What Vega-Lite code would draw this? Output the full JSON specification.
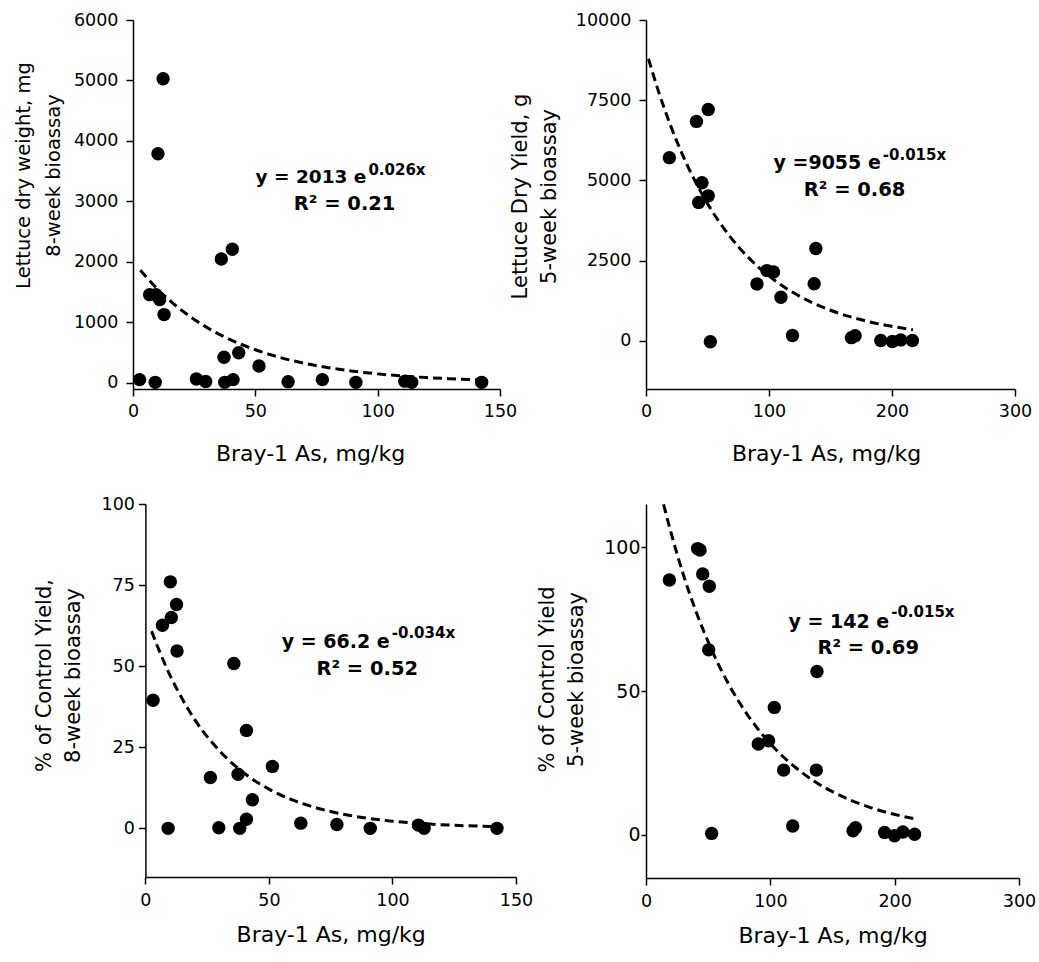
{
  "$schema": "https://vega.github.io/schema/vega-lite/v6.json",
  "padding": {"left": 13, "top": 11, "right": 5, "bottom": 5},
  "background": "white",
  "config": {
    "view": {"stroke": null},
    "font": "DejaVu Sans",
    "axis": {
      "grid": false, "domainColor": "black", "domainWidth": 1.5, "tickColor": "black", "tickWidth": 1.5, "tickSize": 7,
      "labelColor": "black", "labelFont": "DejaVu Sans", "labelFontSize": 17.5, "labelFlush": false, "labelOverlap": false,
      "titleColor": "black", "titleFont": "DejaVu Sans", "titleFontWeight": "normal"
    },
    "axisX": {"titleFontSize": 22, "labelPadding": 6, "titlePadding": 24},
    "axisY": {"titleFontSize": 21, "titleLineHeight": 29}
  },
  "datasets": {
    "p1": [
      {"x": 2.7, "y": 55}, {"x": 6.8, "y": 1460}, {"x": 9.1, "y": 10}, {"x": 9.4, "y": 1460}, {"x": 10.2, "y": 3790},
      {"x": 10.9, "y": 1380}, {"x": 12.3, "y": 5030}, {"x": 12.7, "y": 1130}, {"x": 25.9, "y": 65}, {"x": 29.7, "y": 25},
      {"x": 36.1, "y": 2050}, {"x": 37.2, "y": 425}, {"x": 37.5, "y": 10}, {"x": 40.6, "y": 2210}, {"x": 40.9, "y": 55},
      {"x": 43.2, "y": 500}, {"x": 51.5, "y": 280}, {"x": 63.4, "y": 20}, {"x": 77.4, "y": 55}, {"x": 91.1, "y": 10},
      {"x": 111.1, "y": 30}, {"x": 113.9, "y": 10}, {"x": 142.5, "y": 10}
    ],
    "c1": [
      {"x": 3, "y": 1862}, {"x": 10, "y": 1552}, {"x": 20, "y": 1197}, {"x": 30, "y": 923}, {"x": 40, "y": 711},
      {"x": 50, "y": 549}, {"x": 60, "y": 423}, {"x": 70, "y": 326}, {"x": 80, "y": 251}, {"x": 90, "y": 194},
      {"x": 100, "y": 150}, {"x": 110, "y": 115}, {"x": 120, "y": 89}, {"x": 130, "y": 69}, {"x": 142, "y": 50}
    ],
    "p2": [
      {"x": 19, "y": 5710}, {"x": 41, "y": 6840}, {"x": 50.6, "y": 7210}, {"x": 45.5, "y": 4930}, {"x": 42.8, "y": 4310},
      {"x": 50.6, "y": 4520}, {"x": 52.3, "y": -30}, {"x": 90.2, "y": 1770}, {"x": 98.3, "y": 2190}, {"x": 103.7, "y": 2150},
      {"x": 109.7, "y": 1360}, {"x": 136.7, "y": 1780}, {"x": 138.1, "y": 2880}, {"x": 119.1, "y": 165}, {"x": 167, "y": 100},
      {"x": 170, "y": 160}, {"x": 190.9, "y": 10}, {"x": 200.3, "y": -20}, {"x": 207.1, "y": 30}, {"x": 216.6, "y": 10}
    ],
    "c2": [
      {"x": 2, "y": 8788}, {"x": 10, "y": 7794}, {"x": 20, "y": 6708}, {"x": 30, "y": 5774}, {"x": 40, "y": 4970},
      {"x": 50, "y": 4277}, {"x": 60, "y": 3682}, {"x": 75, "y": 2940}, {"x": 90, "y": 2347}, {"x": 105, "y": 1874},
      {"x": 120, "y": 1497}, {"x": 135, "y": 1195}, {"x": 150, "y": 954}, {"x": 165, "y": 762}, {"x": 180, "y": 609},
      {"x": 195, "y": 486}, {"x": 217, "y": 349}
    ],
    "p3": [
      {"x": 3.1, "y": 39.5}, {"x": 6.9, "y": 62.6}, {"x": 9.2, "y": 0}, {"x": 10.1, "y": 76}, {"x": 10.5, "y": 65},
      {"x": 12.6, "y": 69}, {"x": 12.8, "y": 54.7}, {"x": 26.3, "y": 15.7}, {"x": 29.7, "y": 0.2}, {"x": 35.8, "y": 50.8},
      {"x": 37.5, "y": 16.7}, {"x": 38.2, "y": 0}, {"x": 40.9, "y": 30.2}, {"x": 40.9, "y": 2.8}, {"x": 43.3, "y": 8.8},
      {"x": 51.4, "y": 19.1}, {"x": 62.9, "y": 1.6}, {"x": 77.5, "y": 1.2}, {"x": 91, "y": 0}, {"x": 110.5, "y": 1.0},
      {"x": 112.8, "y": 0}, {"x": 142.3, "y": 0}
    ],
    "c3": [
      {"x": 2.5, "y": 60.8}, {"x": 5, "y": 55.9}, {"x": 10, "y": 47.1}, {"x": 15, "y": 39.8}, {"x": 20, "y": 33.5},
      {"x": 30, "y": 23.9}, {"x": 40, "y": 17.0}, {"x": 50, "y": 12.1}, {"x": 60, "y": 8.61}, {"x": 70, "y": 6.13},
      {"x": 80, "y": 4.36}, {"x": 90, "y": 3.10}, {"x": 100, "y": 2.21}, {"x": 115, "y": 1.33}, {"x": 130, "y": 0.80},
      {"x": 142, "y": 0.53}
    ],
    "p4": [
      {"x": 18.8, "y": 88.6}, {"x": 41.5, "y": 99.5}, {"x": 43.5, "y": 99}, {"x": 45.6, "y": 90.7}, {"x": 50.9, "y": 86.4},
      {"x": 50.4, "y": 64.3}, {"x": 52.8, "y": 0.5}, {"x": 90.3, "y": 31.6}, {"x": 98.6, "y": 32.7}, {"x": 103.2, "y": 44.3},
      {"x": 110.7, "y": 22.5}, {"x": 118, "y": 3.1}, {"x": 137.5, "y": 56.8}, {"x": 137, "y": 22.5}, {"x": 166.5, "y": 1.4},
      {"x": 168.5, "y": 2.5}, {"x": 191.9, "y": 0.8}, {"x": 199.9, "y": -0.3}, {"x": 206.6, "y": 1.0}, {"x": 216, "y": 0.2}
    ],
    "c4": [
      {"x": 14.1, "y": 114.9}, {"x": 20, "y": 105.2}, {"x": 30, "y": 90.5}, {"x": 40, "y": 77.9}, {"x": 50, "y": 67.1},
      {"x": 60, "y": 57.7}, {"x": 75, "y": 46.1}, {"x": 90, "y": 36.8}, {"x": 105, "y": 29.4}, {"x": 120, "y": 23.5},
      {"x": 135, "y": 18.7}, {"x": 150, "y": 15.0}, {"x": 165, "y": 12.0}, {"x": 180, "y": 9.54}, {"x": 195, "y": 7.62},
      {"x": 216, "y": 5.56}
    ]
  },
  "vconcat": [
    {
      "hconcat": [
        {
          "width": 367, "height": 369,
          "encoding": {
            "x": {"field": "x", "type": "quantitative", "scale": {"domain": [0, 150], "nice": false, "zero": false},
                  "axis": {"title": "Bray-1 As, mg/kg", "values": [0, 50, 100, 150], "format": "d", "titleX": 177}},
            "y": {"field": "y", "type": "quantitative", "scale": {"domain": [-100, 6000], "nice": false, "zero": false},
                  "axis": {"title": ["Lettuce dry weight, mg", "8-week bioassay"], "values": [0, 1000, 2000, 3000, 4000, 5000, 6000], "format": "d", "labelPadding": 8, "titlePadding": 10, "titleFontSize": 19.5, "titleLineHeight": 30, "titleY": 155}}
          },
          "layer": [
            {"data": {"name": "c1"}, "mark": {"type": "line", "color": "black", "strokeWidth": 3, "strokeDash": [9, 5], "interpolate": "monotone"}},
            {"data": {"name": "p1"}, "mark": {"type": "point", "filled": true, "color": "black", "opacity": 1, "size": 180}},
            {"data": {"values": [{"x": 95.4, "y": 3303, "t": "y = 2013 e"}]}, "mark": {"type": "text", "align": "right", "baseline": "alphabetic", "fontSize": 18.5, "fontWeight": "bold", "color": "black"}, "encoding": {"text": {"field": "t"}}},
            {"data": {"values": [{"x": 95.4, "y": 3303, "t": "0.026x"}]}, "mark": {"type": "text", "align": "left", "baseline": "alphabetic", "dx": 2, "dy": -8, "fontSize": 15, "fontWeight": "bold", "color": "black"}, "encoding": {"text": {"field": "t"}}},
            {"data": {"values": [{"x": 86.5, "y": 2862, "t": "R² = 0.21"}]}, "mark": {"type": "text", "align": "center", "baseline": "alphabetic", "fontSize": 19.5, "fontWeight": "bold", "color": "black"}, "encoding": {"text": {"field": "t"}}}
          ]
        },
        {
          "width": 369, "height": 369,
          "encoding": {
            "x": {"field": "x", "type": "quantitative", "scale": {"domain": [0, 300], "nice": false, "zero": false},
                  "axis": {"title": "Bray-1 As, mg/kg", "values": [0, 100, 200, 300], "format": "d", "titleX": 180}},
            "y": {"field": "y", "type": "quantitative", "scale": {"domain": [-1500, 10000], "nice": false, "zero": false},
                  "axis": {"title": ["Lettuce Dry Yield, g", "5-week bioassay"], "values": [0, 2500, 5000, 7500, 10000], "format": "d", "labelPadding": 8, "titlePadding": 16, "titleY": 176}}
          },
          "layer": [
            {"data": {"name": "c2"}, "mark": {"type": "line", "color": "black", "strokeWidth": 3, "strokeDash": [9, 5], "interpolate": "monotone"}},
            {"data": {"name": "p2"}, "mark": {"type": "point", "filled": true, "color": "black", "opacity": 1, "size": 180}},
            {"data": {"values": [{"x": 190.9, "y": 5349, "t": "y =9055 e"}]}, "mark": {"type": "text", "align": "right", "baseline": "alphabetic", "fontSize": 19, "fontWeight": "bold", "color": "black"}, "encoding": {"text": {"field": "t"}}},
            {"data": {"values": [{"x": 190.9, "y": 5349, "t": "-0.015x"}]}, "mark": {"type": "text", "align": "left", "baseline": "alphabetic", "dx": 2, "dy": -9, "fontSize": 15, "fontWeight": "bold", "color": "black"}, "encoding": {"text": {"field": "t"}}},
            {"data": {"values": [{"x": 169.6, "y": 4510, "t": "R² = 0.68"}]}, "mark": {"type": "text", "align": "center", "baseline": "alphabetic", "fontSize": 19.5, "fontWeight": "bold", "color": "black"}, "encoding": {"text": {"field": "t"}}}
          ]
        }
      ],
      "spacing": 146, "bounds": "flush"
    },
    {
      "hconcat": [
        {
          "width": 383, "height": 373,
          "encoding": {
            "x": {"field": "x", "type": "quantitative", "scale": {"domain": [0, 150], "range": [12.4, 383], "nice": false, "zero": false},
                  "axis": {"title": "Bray-1 As, mg/kg", "values": [0, 50, 100, 150], "format": "d", "labelPadding": 7, "titlePadding": 16}},
            "y": {"field": "y", "type": "quantitative", "scale": {"domain": [-15, 100], "nice": false, "zero": false},
                  "axis": {"title": ["% of Control Yield,", "8-week bioassay"], "values": [0, 25, 50, 75, 100], "format": "d", "offset": -12.4, "labelPadding": 4, "titlePadding": 17, "titleY": 171}}
          },
          "layer": [
            {"data": {"name": "c3"}, "mark": {"type": "line", "color": "black", "strokeWidth": 3, "strokeDash": [9, 5], "interpolate": "monotone"}},
            {"data": {"name": "p3"}, "mark": {"type": "point", "filled": true, "color": "black", "opacity": 1, "size": 180}},
            {"data": {"values": [{"x": 98.9, "y": 55.6, "t": "y = 66.2 e"}]}, "mark": {"type": "text", "align": "right", "baseline": "alphabetic", "fontSize": 19, "fontWeight": "bold", "color": "black"}, "encoding": {"text": {"field": "t"}}},
            {"data": {"values": [{"x": 98.9, "y": 55.6, "t": "-0.034x"}]}, "mark": {"type": "text", "align": "left", "baseline": "alphabetic", "dx": 2, "dy": -10, "fontSize": 15, "fontWeight": "bold", "color": "black"}, "encoding": {"text": {"field": "t"}}},
            {"data": {"values": [{"x": 89.8, "y": 47.4, "t": "R² = 0.52"}]}, "mark": {"type": "text", "align": "center", "baseline": "alphabetic", "fontSize": 19.5, "fontWeight": "bold", "color": "black"}, "encoding": {"text": {"field": "t"}}}
          ]
        },
        {
          "width": 373, "height": 374,
          "encoding": {
            "x": {"field": "x", "type": "quantitative", "scale": {"domain": [0, 300], "nice": false, "zero": false},
                  "axis": {"title": "Bray-1 As, mg/kg", "values": [0, 100, 200, 300], "format": "d", "labelPadding": 7, "titlePadding": 16}},
            "y": {"field": "y", "type": "quantitative", "scale": {"domain": [-15, 115], "nice": false, "zero": false},
                  "axis": {"title": ["% of Control Yield", "5-week bioassay"], "values": [0, 50, 100], "format": "d", "tickSize": 5, "labelPadding": 1, "labelFontSize": 19, "titlePadding": 17, "titleY": 175}}
          },
          "layer": [
            {"data": {"name": "c4"}, "mark": {"type": "line", "color": "black", "strokeWidth": 3, "strokeDash": [9, 5], "interpolate": "monotone"}},
            {"data": {"name": "p4"}, "mark": {"type": "point", "filled": true, "color": "black", "opacity": 1, "size": 180}},
            {"data": {"values": [{"x": 195.6, "y": 72.0, "t": "y = 142 e"}]}, "mark": {"type": "text", "align": "right", "baseline": "alphabetic", "fontSize": 19, "fontWeight": "bold", "color": "black"}, "encoding": {"text": {"field": "t"}}},
            {"data": {"values": [{"x": 195.6, "y": 72.0, "t": "-0.015x"}]}, "mark": {"type": "text", "align": "left", "baseline": "alphabetic", "dx": 2, "dy": -11, "fontSize": 15, "fontWeight": "bold", "color": "black"}, "encoding": {"text": {"field": "t"}}},
            {"data": {"values": [{"x": 178.7, "y": 62.8, "t": "R² = 0.69"}]}, "mark": {"type": "text", "align": "center", "baseline": "alphabetic", "fontSize": 19.5, "fontWeight": "bold", "color": "black"}, "encoding": {"text": {"field": "t"}}}
          ]
        }
      ],
      "spacing": 130, "bounds": "flush"
    }
  ],
  "spacing": 30
}
